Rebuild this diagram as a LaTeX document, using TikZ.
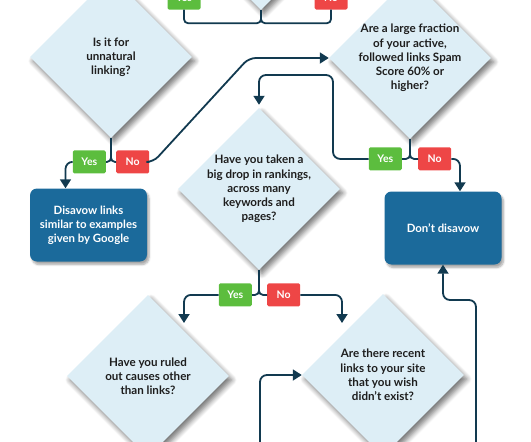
\documentclass[tikz,border=0pt]{standalone}
\usepackage{fontspec}
\setmainfont{Lato}
\usetikzlibrary{positioning,calc,arrows.meta,shapes.geometric,shadows.blur}

\definecolor{qfill}{HTML}{DDEEF6}
\definecolor{qtext}{HTML}{1E1E1E}
\definecolor{flow}{HTML}{123A50}
\definecolor{boxblue}{HTML}{1B6A9B}
\definecolor{yesgreen}{HTML}{5CBD3E}
\definecolor{nored}{HTML}{EE4646}

\begin{document}
\begin{tikzpicture}[x=1pt, y=-1pt, >={Triangle[width=11pt,length=9pt]}, decision/.style = {diamond, fill=qfill, minimum width=162pt, minimum height=162pt, inner sep=0pt, blur shadow={shadow xshift=3pt, shadow yshift=-4pt, shadow blur steps=8, shadow blur radius=5pt, shadow opacity=55}}, question/.style = {align=center, text=qtext, font=\fontsize{11.6}{14.2}\selectfont\bfseries}, action/.style = {rectangle, rounded corners=7pt, fill=boxblue, text=white, align=center, minimum width=117pt, minimum height=73pt, font=\fontsize{11.4}{14.2}\selectfont\bfseries, blur shadow={shadow xshift=2pt, shadow yshift=-3pt, shadow blur steps=6, shadow opacity=35}}, answer/.style = {minimum width=33pt, minimum height=23pt, inner sep=0pt, rounded corners=1.5pt, text=white, font=\fontsize{10.5}{12}\selectfont\bfseries}, yesbox/.style = {answer, fill=yesgreen}, nobox/.style = {answer, fill=nored}, link/.style = {draw=flow, line width=1.8pt, rounded corners=7pt}, split/.style = {link, rounded corners=4pt}]

\useasboundingbox (0,0) rectangle (531,442);

% questions
\node[decision] (0) at (261,-71) {};
\node[decision] (1) at (111,57) {};
\node[decision] (2) at (410,58) {};
\node[decision] (3) at (259,189) {};
\node[decision] (4) at (148,376) {};
\node[decision] (5) at (383,375) {};

\node[question] (q1) at (1) {Is it for\\unnatural\\linking?};
\node[question] (q2) at (2) {Are a large fraction\\of your active,\\followed links Spam\\Score 60\% or\\higher?};
\node[question] (q3) at (3) {Have you taken a\\big drop in rankings,\\across many\\keywords and\\pages?};
\node[question] (q4) at (4) {Have you ruled\\out causes other\\than links?};
\node[question] (q5) at (5) {Are there recent\\links to your site\\that you wish\\didn't exist?};

% outcomes
\node[action] (a) at (88.5,225) {Disavow links\\similar to examples\\given by Google};
\node[action] (b) at (443,228) {Don't disavow};

% answers
\node[yesbox] (y0) at (184,-2) {Yes};
\node[nobox] (n0) at (331,-2) {No};
\node[yesbox] (y1) [below left=12pt and 5pt of 1.south] {Yes};
\node[nobox] (n1) [below right=12pt and 5pt of 1.south] {No};
\node[yesbox] (y2) [below left=8pt and 8pt of 2.south] {Yes};
\node[nobox] (n2) [below right=8pt and 8pt of 2.south] {No};
\node[yesbox] (y3) [below left=13pt and 7pt of 3.south] {Yes};
\node[nobox] (n3) [below right=13pt and 8pt of 3.south] {No};

\coordinate (t4) at (184,323);
\coordinate (t5) at (342,323);
\coordinate (s1) at (260,442);
\coordinate (s2) at (476,442);

\path[split] (0.south) -- ++(0,13) -| (y0.south);
\path[split] (0.south) -- ++(0,13) -| (n0.south);
\path[split] (1.south) |- (y1.east);
\path[split] (1.south) |- (n1.west);
\path[split] (2.south) |- (y2.east);
\path[split] (2.south) |- (n2.west);
\path[split] (3.south) |- (y3.east);
\path[split] (3.south) |- (n3.west);

\path[link,->] (y1.west) -| ([xshift=-23pt]a.north);
\path[link,->] (n1.east) -- ++(4,0) -- ($(2.west)+(-80,0)$) -- (2.west);
\path[link,->, shorten >=3pt] (y2.west) -| (333,75) -| (3.north);
\path[link,->] (n2.east) -| ([xshift=17pt]b.north);
\path[link,->] (y3.west) -| (t4);
\path[link,->] (n3.east) -| (t5);
\path[link,->] (s1) |- (5.west);
\path[link,->] (s2) -- ++(0,-142) -| (b.south);
\end{tikzpicture}
\end{document}
